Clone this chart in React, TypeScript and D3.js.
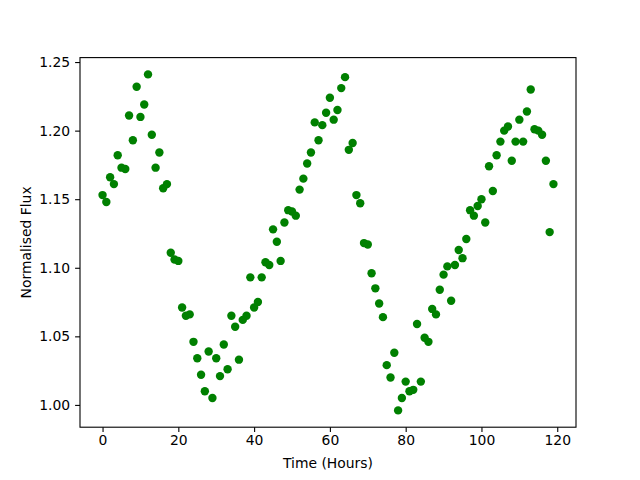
import React, { useEffect, useRef } from 'react';
import * as d3 from 'd3';

// hours since start of observation
const hours = d3.range(0, 120);

// normalised flux, one value per hour
const flux = [
  1.153, 1.148, 1.166, 1.161, 1.182, 1.173, 1.172, 1.211, 1.193, 1.232,
  1.210, 1.219, 1.241, 1.197, 1.173, 1.184, 1.158, 1.161, 1.111, 1.106,
  1.105, 1.071, 1.065, 1.066, 1.046, 1.034, 1.022, 1.010, 1.039, 1.005,
  1.034, 1.021, 1.044, 1.026, 1.065, 1.057, 1.033, 1.062, 1.065, 1.093,
  1.071, 1.075, 1.093, 1.104, 1.102, 1.128, 1.119, 1.105, 1.133, 1.142,
  1.141, 1.138, 1.157, 1.165, 1.176, 1.184, 1.206, 1.193, 1.204, 1.213,
  1.224, 1.208, 1.215, 1.231, 1.239, 1.186, 1.191, 1.153, 1.147, 1.118,
  1.117, 1.096, 1.085, 1.074, 1.064, 1.029, 1.020, 1.038, 0.996, 1.005,
  1.017, 1.010, 1.011, 1.059, 1.017, 1.049, 1.046, 1.070, 1.066, 1.084,
  1.095, 1.101, 1.076, 1.102, 1.113, 1.107, 1.121, 1.142, 1.138, 1.145,
  1.150, 1.133, 1.174, 1.156, 1.182, 1.192, 1.200, 1.203, 1.178, 1.192,
  1.208, 1.192, 1.214, 1.230, 1.201, 1.200, 1.197, 1.178, 1.126, 1.161,
];

const xTicks = [0, 20, 40, 60, 80, 100, 120];
const yTicks = [1.0, 1.05, 1.1, 1.15, 1.2, 1.25];

const pad = (ext: number[]) => {
  const m = (ext[1] - ext[0]) * 0.05;
  return [ext[0] - m, ext[1] + m];
};

const App = () => {
  const ref = useRef<SVGSVGElement>(null);

  useEffect(() => {
    const width = 640;
    const height = 480;
    const margin = { top: 57.6, right: 64, bottom: 52.8, left: 80 };
    const font = 'DejaVu Sans, sans-serif';

    const svg = d3.select(ref.current);
    svg.selectAll('*').remove();
    svg.attr('width', width).attr('height', height);

    svg.append('rect').attr('width', width).attr('height', height).attr('fill', '#fff');

    const x = d3.scaleLinear()
      .domain(pad(d3.extent(hours) as number[]))
      .range([margin.left, width - margin.right]);

    const y = d3.scaleLinear()
      .domain(pad(d3.extent(flux) as number[]))
      .range([height - margin.bottom, margin.top]);

    // points
    svg.append('g')
      .attr('fill', '#008000')
      .selectAll('circle')
      .data(hours)
      .join('circle')
      .attr('cx', d => x(d))
      .attr('cy', (d, i) => y(flux[i]))
      .attr('r', 4.2);

    const xAxis = svg.append('g')
      .attr('transform', `translate(0, ${height - margin.bottom})`)
      .call(d3.axisBottom(x).tickValues(xTicks).tickSize(4.9).tickPadding(3.5).tickFormat(d3.format('d')));

    const yAxis = svg.append('g')
      .attr('transform', `translate(${margin.left}, 0)`)
      .call(d3.axisLeft(y).tickValues(yTicks).tickSize(4.9).tickPadding(4.9).tickFormat(d3.format('.2f')));

    [xAxis, yAxis].forEach(a => {
      a.select('.domain').remove();
      a.selectAll('line').attr('stroke', '#000').attr('stroke-width', 1.1);
      a.selectAll('text')
        .attr('fill', '#000')
        .attr('font-family', font)
        .attr('font-size', 13.9);
    });

    // frame
    svg.append('rect')
      .attr('x', margin.left)
      .attr('y', margin.top)
      .attr('width', width - margin.left - margin.right)
      .attr('height', height - margin.top - margin.bottom)
      .attr('fill', 'none')
      .attr('stroke', '#000')
      .attr('stroke-width', 1.1);

    svg.append('text')
      .attr('x', (margin.left + width - margin.right) / 2)
      .attr('y', 468)
      .attr('text-anchor', 'middle')
      .attr('font-family', font)
      .attr('font-size', 13.9)
      .text('Time (Hours)');

    svg.append('text')
      .attr('transform', `translate(31, ${(margin.top + height - margin.bottom) / 2}) rotate(-90)`)
      .attr('text-anchor', 'middle')
      .attr('font-family', font)
      .attr('font-size', 13.9)
      .text('Normalised Flux');
  }, []);

  return (
    <div style={{ position: 'absolute', left: 0, top: 0 }}>
      <svg ref={ref} style={{ display: 'block' }} />
    </div>
  );
};

export default App;
